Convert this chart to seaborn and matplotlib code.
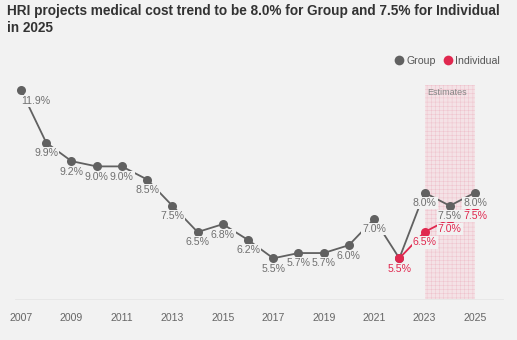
import matplotlib
matplotlib.use("Agg")
import matplotlib.pyplot as plt
import seaborn as sns
import pandas as pd
from matplotlib.lines import Line2D

years = list(range(2007, 2026))
group = [11.9, 9.9, 9.2, 9.0, 9.0, 8.5, 7.5, 6.5, 6.8, 6.2, 5.5, 5.7, 5.7, 6.0, 7.0, 5.5, 8.0, 7.5, 8.0]
ind_years = [2022, 2023, 2024, 2025]
individual = [5.5, 6.5, 7.0, 7.5]
tick_years = list(range(2007, 2026, 2))

BG = "#f2f2f2"
GRAY = "#616161"
RED = "#e0284f"
LABEL_GRAY = "#707070"

sns.set_theme(style="white")
plt.rcParams["font.family"] = ["Liberation Sans", "DejaVu Sans"]
plt.rcParams["hatch.linewidth"] = 0.35

df = pd.concat([
    pd.DataFrame({"year": years, "value": group, "series": "Group"}),
    pd.DataFrame({"year": ind_years, "value": individual, "series": "Individual"}),
])

fig = plt.figure(figsize=(5.17, 3.40), dpi=100, facecolor=BG)
ax = fig.add_axes([15 / 517, 1 - 299 / 340, (503 - 15) / 517, (299 - 85) / 340])
ax.set_facecolor(BG)

ax.axvspan(2023, 2025, facecolor="#f4e2e6", edgecolor="#efc3cd", hatch="++++", linewidth=0, zorder=0)
ax.text(2023.12, 11.8, "Estimates", fontsize=6.5, color="#858585", va="center", ha="left", zorder=1)

sns.lineplot(data=df, x="year", y="value", hue="series", hue_order=["Group", "Individual"],
             palette={"Group": GRAY, "Individual": RED}, marker="o", markersize=6.5,
             markeredgewidth=0, linewidth=1.3, ax=ax, legend=False, zorder=3)

bbox = dict(boxstyle="square,pad=0.1", facecolor=BG, edgecolor="none")
for i, (y, v) in enumerate(zip(years, group)):
    if y == 2022:
        continue
    dx = 10.8 if i == 0 else 0
    ax.annotate(f"{v:.1f}%", (y, v), xytext=(dx, -7.5), textcoords="offset points",
                ha="center", va="center", fontsize=7.6, color=LABEL_GRAY, bbox=bbox, zorder=5)
for y, v in zip(ind_years, individual):
    ax.annotate(f"{v:.1f}%", (y, v), xytext=(0, -7.5), textcoords="offset points",
                ha="center", va="center", fontsize=7.6, color=RED, bbox=bbox, zorder=6)

ax.set_xlim(2006.76, 2026.11)
ax.set_ylim(3.95, 12.1)
ax.set_xticks(tick_years)
ax.set_xticklabels([str(t) for t in tick_years], fontsize=7.6, color="#666666")
ax.tick_params(axis="x", length=0, pad=10)
ax.set_yticks([])
ax.set_xlabel("")
ax.set_ylabel("")
for s in ["top", "right", "left"]:
    ax.spines[s].set_visible(False)
ax.spines["bottom"].set_color("#e6e6e6")
ax.spines["bottom"].set_linewidth(0.6)

fig.text(7 / 517, 1 - 4 / 340, "HRI projects medical cost trend to be 8.0% for Group and 7.5% for Individual\nin 2025",
         fontsize=9.85, fontweight="bold", color="#333333", ha="left", va="top", linespacing=1.3)

handles = [Line2D([], [], marker="o", linestyle="", color=GRAY, markersize=7, markeredgewidth=0),
           Line2D([], [], marker="o", linestyle="", color=RED, markersize=7, markeredgewidth=0)]
fig.legend(handles, ["Group", "Individual"], loc="center right", bbox_to_anchor=(504 / 517, 1 - 61 / 340),
           ncol=2, frameon=False, fontsize=7.6, handletextpad=0.2, columnspacing=0.6,
           handlelength=1.0, borderaxespad=0, labelcolor="#555555")

fig.savefig("out.png", dpi=100, facecolor=BG)
